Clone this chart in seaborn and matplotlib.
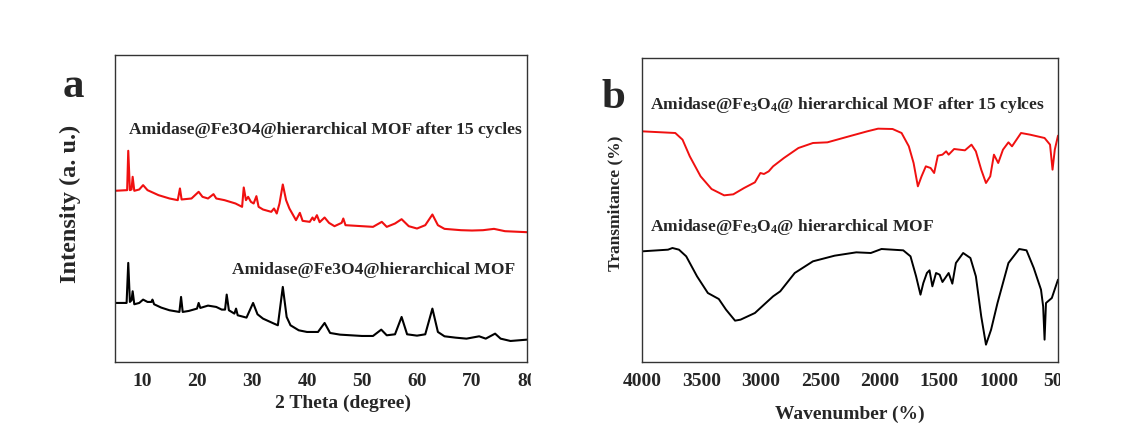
import numpy as np
import pandas as pd
import seaborn as sns
import matplotlib
matplotlib.use("Agg")
import matplotlib.pyplot as plt
from matplotlib.transforms import Bbox
from matplotlib.ticker import MultipleLocator

# ---------------- data: panel a (XRD) ----------------
xrd_after_theta = [5, 7.3, 7.5, 7.8, 8.1, 8.3, 8.6, 9.5, 10.2, 11, 13, 15, 16.5, 16.9, 17.2, 19, 20.3, 21, 22, 23,
                   23.5, 25, 27, 28.2, 28.5, 28.9, 29.3, 29.8, 30.3, 30.8, 31.2, 32, 33.5, 34, 34.5, 35, 35.6, 36.2,
                   36.8, 38, 38.7, 39.2, 40.5, 41, 41.3, 41.8, 42.3, 43.2, 44, 45, 46.3, 46.6, 47, 50, 52, 53.6,
                   54.5, 56, 57.2, 58.5, 60, 61.5, 62.8, 63.8, 65, 68, 70, 72, 74, 76, 80]
xrd_after_int = [513, 515, 633, 515, 517, 555, 513, 517, 530, 515, 500, 490, 485, 520, 487, 490, 510, 495, 490, 503,
                 490, 485, 475, 465, 523, 485, 495, 480, 475, 497, 465, 457, 450, 460, 445, 475, 532, 485,
                 460, 425, 447, 423, 420, 433, 425, 440, 419, 433, 417, 407, 417, 430, 410, 407, 405, 420,
                 405, 415, 428, 407, 400, 410, 442, 410, 399, 395, 394, 395, 399, 392, 389]

xrd_fresh_theta = [5, 7.2, 7.5, 7.8, 8.1, 8.3, 8.6, 9.5, 10.2, 11, 11.7, 11.9, 12.2, 13.5, 15, 16.8, 17.1, 17.4, 18.5,
                   20, 20.3, 20.6, 22, 23.5, 24.5, 25.1, 25.4, 25.8, 26.8, 27.1, 27.4, 29, 30.2, 31, 32, 34, 34.7,
                   35.6, 36.3, 37, 38.5, 40, 42, 43.2, 44.2, 46, 48, 50, 52, 53.5, 54.5, 56, 57.2, 58.2, 60, 61.5,
                   62.8, 63.8, 65, 67, 69, 71.3, 72.5, 74.2, 75.2, 77, 80]
xrd_fresh_int = [177, 177, 297, 180, 185, 212, 173, 177, 187, 180, 180, 187, 173, 163, 155, 150, 195, 150, 153,
                 160, 177, 162, 169, 165, 157, 157, 202, 155, 145, 160, 140, 133, 177, 143, 130, 115, 110,
                 225, 135, 110, 95, 90, 90, 117, 87, 82, 80, 78, 78, 97, 80, 83, 135, 83, 79, 83,
                 160, 90, 77, 73, 70, 77, 70, 85, 70, 63, 67]

# ---------------- data: panel b (FTIR) ----------------
ir_after_wn = [4000, 3720, 3659, 3598, 3507, 3415, 3309, 3232, 3141, 3050, 3004, 2974, 2934, 2897, 2806, 2684,
               2562, 2440, 2258, 2105, 2014, 1892, 1816, 1755, 1715, 1679, 1648, 1612, 1572, 1542, 1511, 1472,
               1441, 1420, 1374, 1283, 1228, 1191, 1146, 1106, 1070, 1039, 1003, 963, 917, 887, 811, 735, 613,
               567, 546, 527, 500]
ir_after_t = [692, 687, 667, 617, 557, 519, 500, 503, 522, 539, 567, 564, 572, 587, 612, 642,
              657, 659, 677, 692, 700, 699, 687, 647, 597, 527, 557, 587, 582, 567, 619, 622,
              632, 622, 639, 635, 652, 632, 577, 537, 557, 622, 597, 637, 659, 647, 687, 682, 672,
              652, 577, 637, 679]

ir_fresh_wn = [4000, 3781, 3744, 3689, 3628, 3537, 3446, 3354, 3293, 3217, 3171, 3050, 2989, 2897, 2837, 2715,
               2562, 2379, 2197, 2075, 1985, 1802, 1741, 1694, 1657, 1633, 1603, 1581, 1557, 1526, 1496, 1472,
               1420, 1389, 1359, 1298, 1237, 1191, 1146, 1106, 1063, 1009, 917, 826, 765, 704, 643, 625, 613,
               601, 552, 500]
ir_fresh_t = [332, 337, 342, 337, 317, 257, 207, 189, 157, 124, 127, 147, 167, 197, 212, 267,
              302, 319, 329, 327, 339, 335, 317, 257, 202, 237, 267, 275, 227, 267, 262, 240,
              267, 235, 297, 327, 312, 257, 137, 52, 97, 177, 297, 339, 335, 282, 217, 167, 67,
              177, 192, 247]

xrd_ticks = [10, 20, 30, 40, 50, 60, 70, 80]
ir_ticks = [4000, 3500, 3000, 2500, 2000, 1500, 1000, 500]

label_after_a = "Amidase@Fe3O4@hierarchical MOF after 15 cycles"
label_fresh_a = "Amidase@Fe3O4@hierarchical MOF"
label_after_b = r"Amidase@Fe$_3$O$_4$@ hierarchical MOF after 15 cylces"
label_fresh_b = r"Amidase@Fe$_3$O$_4$@ hierarchical MOF"

# ---------------- style ----------------
sns.set_style("white")
plt.rcParams['font.family'] = ['Liberation Serif', 'DejaVu Serif']
plt.rcParams['font.weight'] = 'bold'
plt.rcParams['mathtext.fontset'] = 'custom'
plt.rcParams['mathtext.rm'] = 'Liberation Serif:bold'
plt.rcParams['mathtext.it'] = 'Liberation Serif:bold'
plt.rcParams['mathtext.bf'] = 'Liberation Serif:bold'
plt.rcParams['mathtext.default'] = 'rm'

W, H = 1128, 423
fig = plt.figure(figsize=(W / 100, H / 100), dpi=100)
fig.patch.set_facecolor("white")

def fx(px):
    return px / W

def fy(py):
    return 1 - py / H

ax_a = fig.add_axes([fx(114.5), fy(362), fx(527) - fx(114.5), fy(55) - fy(362)])
ax_b = fig.add_axes([fx(642), fy(362), fx(1058) - fx(642), fy(58) - fy(362)])

df_a = pd.concat([
    pd.DataFrame({"theta": xrd_after_theta, "I": xrd_after_int, "s": "after"}),
    pd.DataFrame({"theta": xrd_fresh_theta, "I": xrd_fresh_int, "s": "fresh"}),
])
df_b = pd.concat([
    pd.DataFrame({"wn": ir_after_wn, "T": ir_after_t, "s": "after"}),
    pd.DataFrame({"wn": ir_fresh_wn, "T": ir_fresh_t, "s": "fresh"}),
])
pal = {"after": "#f01010", "fresh": "#000000"}

sns.lineplot(data=df_a, x="theta", y="I", hue="s", palette=pal, sort=False, estimator=None,
             lw=1.5, legend=False, ax=ax_a)
sns.lineplot(data=df_b, x="wn", y="T", hue="s", palette=pal, sort=False, estimator=None,
             lw=1.4, legend=False, ax=ax_b)

ax_a.set_xlim(5, 80)
ax_a.set_ylim(0, 920)
ax_b.set_xlim(4000, 500)
ax_b.set_ylim(0, 912)

for ax in (ax_a, ax_b):
    ax.set_facecolor("white")
    ax.set_yticks([])
    ax.set_xlabel("")
    ax.set_ylabel("")
    for sp in ax.spines.values():
        sp.set_color("#333333")
        sp.set_linewidth(1.0)
    ax.tick_params(axis="x", which="major", direction="out", length=5, width=1, color="#333333",
                   pad=3, labelsize=14)
    ax.tick_params(axis="x", which="minor", direction="out", length=3.5, width=1, color="#333333")

ax_a.set_xticks(xrd_ticks)
ax_a.set_xticklabels([str(t) for t in xrd_ticks], fontweight="bold", fontsize=14)
ax_a.xaxis.set_minor_locator(MultipleLocator(5))
ax_b.set_xticks(ir_ticks)
ax_b.set_xticklabels([str(t) for t in ir_ticks], fontweight="bold", fontsize=14)
ax_b.xaxis.set_minor_locator(MultipleLocator(250))

# clip the last tick labels like the cropped original
clip_a = Bbox.from_extents(0, 0, 531, H)
clip_b = Bbox.from_extents(560, 0, 1060, H)
ax_a.get_xticklabels()[-1].set_clip_box(clip_a)
ax_a.get_xticklabels()[-1].set_clip_on(True)
ax_b.get_xticklabels()[-1].set_clip_box(clip_b)
ax_b.get_xticklabels()[-1].set_clip_on(True)

# texts
fig.text(fx(73), fy(87), "a", fontsize=31, fontweight="bold", ha="center", va="center")
fig.text(fx(613), fy(98), "b", fontsize=31, fontweight="bold", ha="center", va="center")
fig.text(fx(70), fy(204), "Intensity (a. u.)", fontsize=17.5, fontweight="bold", rotation=90,
         ha="center", va="center")
fig.text(fx(615), fy(203.5), "Transmitance (%)", fontsize=12.5, fontweight="bold", rotation=90,
         ha="center", va="center")
fig.text(fx(342.7), fy(403.7), "2 Theta (degree)", fontsize=14, fontweight="bold", ha="center", va="center")
fig.text(fx(850), fy(414), "Wavenumber (%)", fontsize=14, fontweight="bold", ha="center", va="center")

fig.text(fx(129), fy(130), label_after_a, fontsize=12.6, fontweight="bold", ha="left", va="center")
fig.text(fx(232), fy(269.6), label_fresh_a, fontsize=12.6, fontweight="bold", ha="left", va="center")
fig.text(fx(650), fy(105), label_after_b, fontsize=12.6, fontweight="bold", ha="left", va="center")
fig.text(fx(650), fy(226.7), label_fresh_b, fontsize=12.6, fontweight="bold", ha="left", va="center")

fig.savefig("out.png", dpi=100, facecolor="white")
